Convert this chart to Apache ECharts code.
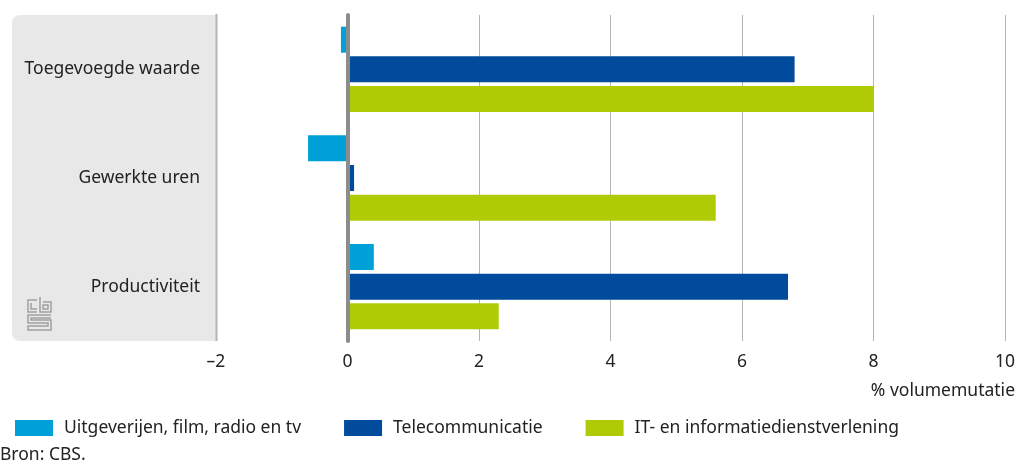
<!DOCTYPE html>
<html>
<head>
<meta charset="utf-8">
<script src="https://cdn.jsdelivr.net/npm/echarts@6/dist/echarts.min.js"></script>
<style>
  html, body { margin: 0; padding: 0; background: #fff; }
  #chart { width: 1018px; height: 464px; }
</style>
</head>
<body>
<div id="chart"></div>
<script>
// categories top to bottom
var categories = ['Toegevoegde waarde', 'Gewerkte uren', 'Productiviteit'];
var seriesNames = ['Uitgeverijen, film, radio en tv', 'Telecommunicatie', 'IT- en informatiedienstverlening'];
var uitgeverijen = [-0.1, -0.6, 0.4];
var telecom = [6.8, 0.1, 6.7];
var itDiensten = [8.0, 5.6, 2.3];
var kleuren = ['#00a1d9', '#004b9b', '#afcb05'];

var font = 'Noto Sans';
var fs = 17.5;
var myChart = echarts.init(document.getElementById('chart'));

var logoStyle = { stroke: '#a0a0a0', fill: null, lineWidth: 1.5 };

var option = {
    animation: false,
    textStyle: { fontFamily: font },
    grid: { left: 216, right: 12, top: 15, bottom: 123, containLabel: false },
    legend: {
        left: 10, top: 414,
        itemWidth: 38, itemHeight: 16, itemGap: 43,
        icon: 'rect',
        textStyle: { fontFamily: font, fontSize: fs, color: '#222', padding: [0, 0, 0, 6] },
        data: seriesNames
    },
    xAxis: {
        type: 'value', min: -2, max: 10, interval: 2,
        axisLine: { show: false }, axisTick: { show: false },
        axisLabel: {
            fontFamily: font, fontSize: fs, color: '#222', margin: 12,
            formatter: function (v) { return v < 0 ? '\u2013' + Math.abs(v) : String(v); }
        },
        splitLine: { lineStyle: { color: '#b4b4b4', width: 1 } }
    },
    yAxis: {
        type: 'category', data: categories, inverse: true, z: 5,
        axisLine: { show: true, onZero: true, lineStyle: { color: '#8c8c8c', width: 4 } },
        axisTick: { show: false },
        axisLabel: { fontFamily: font, fontSize: fs, color: '#222', margin: 16 }
    },
    graphic: [
        { type: 'rect', z: -10, shape: { x: 12, y: 15, width: 205, height: 326, r: [8, 0, 0, 8] }, style: { fill: '#e8e8e8' } },
        { type: 'line', z: -5, shape: { x1: 216.5, y1: 14, x2: 216.5, y2: 341 }, style: { stroke: '#b4b4b4', lineWidth: 2 } },
        // cbs logo
        { type: 'group', z: 5, children: [
            { type: 'polyline', shape: { points: [[37, 300], [28, 300], [28, 312], [37, 312]] }, style: logoStyle },
            { type: 'polyline', shape: { points: [[31, 303], [31, 309], [37, 309]] }, style: logoStyle },
            { type: 'polyline', shape: { points: [[40, 297], [40, 312], [51, 312], [51, 302], [43, 302]] }, style: logoStyle },
            { type: 'rect', shape: { x: 43, y: 305, width: 5, height: 4 }, style: logoStyle },
            { type: 'polyline', shape: { points: [[51, 315], [28, 315], [28, 323], [48, 323], [48, 326], [28, 326], [28, 330], [51, 330], [51, 320], [31, 320], [31, 318], [51, 318]] }, style: logoStyle }
        ] },
        { type: 'text', right: 3, top: 382, style: { text: '% volumemutatie', fontFamily: font, fontSize: fs, fill: '#222' } },
        { type: 'text', left: 0, top: 446, style: { text: 'Bron: CBS.', fontFamily: font, fontSize: fs, fill: '#222' } }
    ],
    series: [
        { name: seriesNames[0], type: 'bar', data: uitgeverijen, barWidth: 26, barGap: '14%', itemStyle: { color: kleuren[0] } },
        { name: seriesNames[1], type: 'bar', data: telecom, barWidth: 26, barGap: '14%', itemStyle: { color: kleuren[1] } },
        { name: seriesNames[2], type: 'bar', data: itDiensten, barWidth: 26, barGap: '14%', itemStyle: { color: kleuren[2] } }
    ]
};

if (option && typeof option === "object") {
    myChart.setOption(option, true);
}
</script>
</body>
</html>
